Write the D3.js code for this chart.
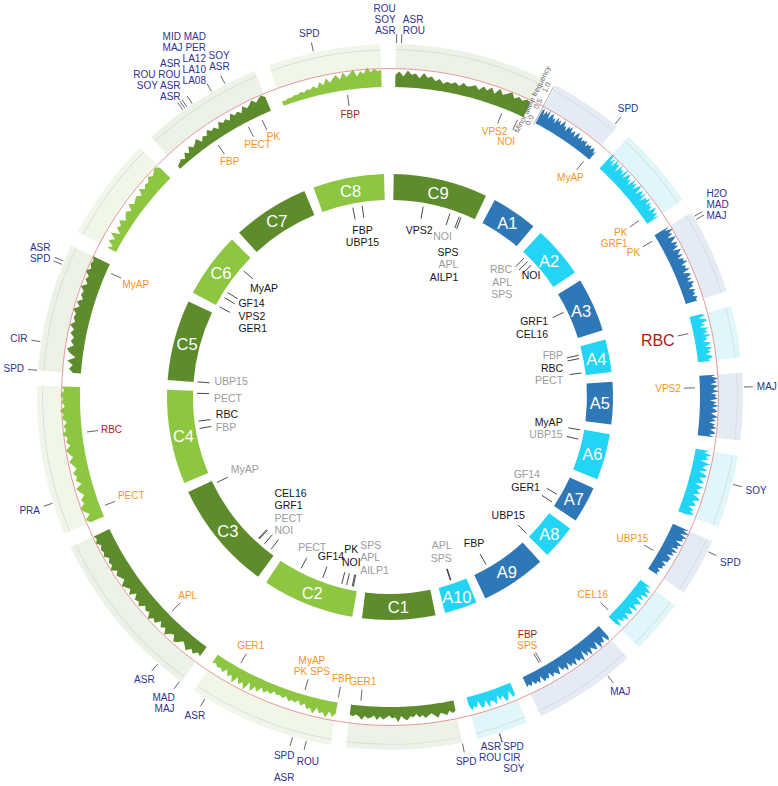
<!DOCTYPE html>
<html><head><meta charset="utf-8">
<script src="https://cdn.jsdelivr.net/npm/d3@7"></script>
<style>
html,body{margin:0;padding:0;background:#fff;}
svg{display:block;font-family:"Liberation Sans",Arial,Helvetica,sans-serif;}
</style></head><body>
<svg id="chart" width="778" height="786"></svg>
<script>
// ---------- DATA ----------
const chromosomes = ["A1","A2","A3","A4","A5","A6","A7","A8","A9","A10","C1","C2","C3","C4","C5","C6","C7","C8","C9"];
const chrLengths  = [24,27,28,17,22,24,19,18,34,17,38,48,57,49,42,34,40,37,49]; // Mb
const axisTicks = [0, 0.5, 1];
const axisTickLabels = ["0.0","0.5","1.0"];
const axisTitle = "Minor allele frequency";

// minor allele frequency profiles (clockwise order within each chromosome)
const mafA1=[0.38,0.47,0.29,0.44,0.35,0.50,0.26,0.41,0.46,0.31,0.39,0.24,0.45,0.33,0.42,0.28,0.37,0.48,0.30,0.36,0.22,0.40,0.34,0.43,0.27,0.32,0.38,0.21,0.35,0.41,0.26,0.30,0.37,0.24,0.33,0.29,0.36,0.20,0.31,0.27,0.34,0.22,0.29,0.32,0.19,0.28];
const mafA2=[0.44,0.55,0.31,0.49,0.25,0.52,0.38,0.46,0.22,0.50,0.35,0.43,0.28,0.53,0.24,0.41,0.47,0.30,0.39,0.21,0.48,0.33,0.45,0.26,0.42,0.50,0.23,0.37,0.44,0.29,0.46,0.20,0.40,0.34,0.48,0.25,0.43,0.31,0.38,0.22,0.45,0.36,0.27,0.41,0.24,0.39];
const mafA3=[0.47,0.30,0.52,0.36,0.44,0.25,0.49,0.39,0.28,0.46,0.33,0.42,0.22,0.45,0.37,0.29,0.43,0.24,0.40,0.35,0.47,0.26,0.38,0.31,0.44,0.21,0.36,0.41,0.27,0.39,0.23,0.42,0.32,0.35,0.20,0.38,0.29,0.34,0.24,0.37,0.30,0.33];
const mafA4=[0.33,0.42,0.22,0.38,0.45,0.27,0.36,0.20,0.43,0.31,0.40,0.24,0.46,0.29,0.35,0.21,0.41,0.37,0.25,0.44,0.30,0.39,0.23,0.36,0.42,0.28,0.34];
const mafA5=[0.44,0.32,0.51,0.38,0.47,0.29,0.50,0.41,0.35,0.52,0.30,0.46,0.39,0.49,0.27,0.45,0.36,0.51,0.33,0.43,0.48,0.31,0.40,0.50,0.34,0.46,0.28,0.44,0.37,0.49,0.32,0.42,0.47,0.30,0.45];
const mafA6=[0.38,0.24,0.45,0.31,0.40,0.20,0.47,0.35,0.28,0.43,0.22,0.39,0.46,0.26,0.36,0.42,0.19,0.44,0.33,0.29,0.41,0.23,0.37,0.45,0.27,0.34,0.40,0.21,0.38,0.30,0.43,0.25];
const mafA7=[0.48,0.33,0.54,0.29,0.50,0.40,0.45,0.26,0.49,0.36,0.43,0.24,0.46,0.31,0.41,0.22,0.39,0.34,0.37,0.21,0.36,0.28,0.33,0.20,0.31,0.25,0.30];
const mafA8=[0.36,0.22,0.43,0.30,0.47,0.25,0.40,0.19,0.44,0.34,0.28,0.46,0.21,0.41,0.37,0.24,0.45,0.30,0.38,0.20,0.42,0.27];
const mafA9=[0.39,0.47,0.26,0.43,0.35,0.50,0.23,0.45,0.38,0.29,0.48,0.32,0.44,0.21,0.49,0.36,0.41,0.27,0.46,0.33,0.40,0.24,0.44,0.30,0.37,0.20,0.42,0.34,0.28,0.39,0.22,0.36,0.31,0.38,0.19,0.35,0.27,0.33,0.21,0.32,0.25,0.30];
const mafA10=[0.32,0.40,0.19,0.37,0.43,0.23,0.35,0.18,0.41,0.30,0.26,0.44,0.21,0.36,0.39,0.17,0.34,0.28,0.38,0.22];
const mafC1=[0.28,0.33,0.25,0.36,0.30,0.27,0.39,0.31,0.24,0.29,0.35,0.26,0.32,0.22,0.30,0.27,0.37,0.33,0.25,0.41,0.28,0.31,0.23,0.29,0.34,0.26,0.36,0.24,0.30,0.33,0.27,0.38,0.29,0.25,0.31,0.28];
const mafC2=[0.30,0.41,0.27,0.46,0.33,0.38,0.25,0.44,0.29,0.35,0.22,0.31,0.19,0.27,0.23,0.29,0.18,0.26,0.21,0.24,0.17,0.28,0.22,0.32,0.20,0.37,0.26,0.43,0.21,0.47,0.30,0.40,0.24,0.45,0.27,0.36,0.20,0.33,0.25,0.29,0.22,0.27];
const mafC3=[0.31,0.26,0.37,0.29,0.42,0.33,0.27,0.39,0.45,0.30,0.36,0.48,0.32,0.41,0.28,0.44,0.37,0.50,0.34,0.40,0.31,0.46,0.38,0.43,0.29,0.47,0.35,0.42,0.49,0.33,0.39,0.45,0.36,0.51,0.40,0.44,0.37,0.48,0.42,0.46,0.39,0.50,0.43,0.47];
const mafC4=[0.40,0.49,0.33,0.45,0.52,0.37,0.42,0.30,0.39,0.46,0.28,0.41,0.35,0.44,0.31,0.38,0.47,0.34,0.43,0.50,0.36,0.46,0.40,0.53,0.42,0.48,0.38,0.51,0.45,0.55,0.41,0.49,0.46,0.53,0.43,0.50];
const mafC5=[0.21,0.33,0.24,0.40,0.19,0.36,0.45,0.28,0.38,0.31,0.43,0.35,0.49,0.37,0.44,0.40,0.51,0.36,0.47,0.33,0.42,0.38,0.50,0.35,0.45,0.39,0.53,0.41,0.48,0.44,0.51];
const mafC6=[0.27,0.15,0.33,0.19,0.38,0.14,0.31,0.24,0.36,0.20,0.29,0.34,0.23,0.40,0.28,0.33,0.37,0.26,0.43,0.31,0.39,0.35,0.47,0.38,0.44,0.50,0.41];
const mafC7=[0.09,0.13,0.18,0.11,0.25,0.16,0.31,0.21,0.27,0.35,0.19,0.30,0.24,0.37,0.28,0.33,0.22,0.39,0.29,0.35,0.26,0.41,0.31,0.37,0.28,0.44,0.33,0.39,0.47,0.36,0.43,0.49,0.40];
const mafC8=[0.13,0.11,0.15,0.14,0.18,0.16,0.21,0.17,0.23,0.20,0.27,0.19,0.34,0.24,0.41,0.27,0.37,0.45,0.30,0.49,0.35,0.43,0.53,0.33,0.46,0.39,0.55,0.42,0.50,0.44,0.47];
const mafC9=[0.33,0.42,0.29,0.46,0.35,0.39,0.27,0.43,0.31,0.36,0.24,0.32,0.21,0.28,0.25,0.31,0.23,0.34,0.27,0.30,0.36,0.26,0.39,0.31,0.43,0.29,0.47,0.34,0.41,0.50,0.36,0.45,0.39,0.48,0.42];

// gene annotations: chromosome, position(s) in Mb, labels
const outerGenes = [
  {chr:"C9", pos:[0.2], labels:["ASR","SOY","ROU"], anchor:"e"},
  {chr:"C9", pos:[1.8], labels:["ROU","ASR"], anchor:"s"},
  {chr:"C8", pos:[15.1], labels:["SPD"]},
  {chr:"C7", pos:[13.6,14.4,15.2,17.2], labels:["ASR","SOY ASR","ROU ROU","ASR"], anchor:"e"},
  {chr:"C7", pos:[24.6], labels:["LA08","LA10","LA12","MAJ PER","MID MAD"], anchor:"e"},
  {chr:"C7", pos:[29.6], labels:["ASR","SOY"]},
  {chr:"C5", pos:[35.3,36.5], labels:["SPD","ASR"]},
  {chr:"C5", pos:[9.3], labels:["CIR"]},
  {chr:"C5", pos:[0], labels:["SPD"]},
  {chr:"C4", pos:[10.4], labels:["PRA"]},
  {chr:"C3", pos:[9.5], labels:["ASR"]},
  {chr:"C3", pos:[0.5], labels:["MAD","MAJ"]},
  {chr:"C2", pos:[43.5], labels:["ASR"]},
  {chr:"C2", pos:[12.5], labels:["SPD","","ASR"]},
  {chr:"C2", pos:[7.9], labels:["ROU"]},
  {chr:"C1", pos:[0], labels:["SPD"]},
  {chr:"A10", pos:[9.6], labels:["ASR","ROU"], anchor:"e"},
  {chr:"A10", pos:[9.6], labels:["SPD","CIR","SOY"], anchor:"s"},
  {chr:"A9", pos:[8.7], labels:["MAJ"]},
  {chr:"A7", pos:[3.6], labels:["SPD"]},
  {chr:"A6", pos:[9.4], labels:["SOY"]},
  {chr:"A5", pos:[4.6], labels:["MAJ"]},
  {chr:"A3", pos:[1.5,2.7], labels:["MAJ","MAD","H2O"]},
  {chr:"A1", pos:[23], labels:["SPD"]}
];
const middleGenes = [
  {chr:"C8", pos:[24.1], labels:[["FBP","r"]]},
  {chr:"C9", pos:[41.0], labels:[["VPS2","o"]]},
  {chr:"C9", pos:[47.4], labels:[["NOI","o"]]},
  {chr:"C7", pos:[35.6], labels:[["PK","o"]]},
  {chr:"C7", pos:[29.8], labels:[["PECT","o"]]},
  {chr:"C7", pos:[16.6], labels:[["FBP","o"]]},
  {chr:"A1", pos:[22.8], labels:[["MyAP","o"]]},
  {chr:"A2", pos:[24.3], labels:[["PK","o"],["GRF1","o"]]},
  {chr:"A3", pos:[1.5], labels:[["PK","o"]]},
  {chr:"A4", pos:[5.9], labels:[["RBC","r"]], big:true},
  {chr:"A5", pos:[4.4], labels:[["VPS2","o"]]},
  {chr:"A7", pos:[12.2], labels:[["UBP15","o"]]},
  {chr:"A8", pos:[16.3], labels:[["CEL16","o"]]},
  {chr:"A9", pos:[25.3,26.1], labels:[["SPS","o"],["FBP","r"]]},
  {chr:"C3", pos:[18.5], labels:[["APL","o"]]},
  {chr:"C2", pos:[39.0], labels:[["GER1","o"]]},
  {chr:"C2", pos:[12.9], labels:[["PK SPS","o"],["MyAP","o"]]},
  {chr:"C2", pos:[0], labels:[["FBP","o"]]},
  {chr:"C1", pos:[34.5], labels:[["GER1","o"]]},
  {chr:"C5", pos:[39.0], labels:[["MyAP","o"]]},
  {chr:"C4", pos:[32.2], labels:[["RBC","r"]]},
  {chr:"C4", pos:[3.8], labels:[["PECT","o"]]}
];
const innerGenes = [
  {chr:"C9", pos:[17.8], labels:[["VPS2","k"]]},
  {chr:"C9", pos:[34.2], labels:[["NOI","g"]]},
  {chr:"C9", pos:[40.0,41.2], labels:[["","k"],["SPS","k"],["APL","g"],["AILP1","k"]]},
  {chr:"A2", pos:[2.9], labels:[["RBC","g"],["APL","g"],["SPS","g"]]},
  {chr:"A2", pos:[5.9,8.9], labels:[["NOI","k"]], anchor:"s"},
  {chr:"A3", pos:[10.9], labels:[["GRF1","k"],["CEL16","k"]]},
  {chr:"A4", pos:[4.9,6.9,15.6], labels:[["FBP","g"],["RBC","k"],["PECT","g"]]},
  {chr:"A6", pos:[0.4,6.0], labels:[["UBP15","g"],["MyAP","k"]]},
  {chr:"A7", pos:[12.2,17.6], labels:[["GER1","k"],["GF14","g"]]},
  {chr:"A8", pos:[17.7], labels:[["UBP15","k"]]},
  {chr:"A9", pos:[25.0], labels:[["FBP","k"]]},
  {chr:"A10", pos:[8.8,9.2], labels:[["SPS","g"],["APL","g"]]},
  {chr:"C2", pos:[2.4,3.1], labels:[["AILP1","g"],["APL","g"],["SPS","g"]], anchor:"s"},
  {chr:"C2", pos:[6.5,9.5], labels:[["NOI","k"],["PK","k"]]},
  {chr:"C2", pos:[21.3], labels:[["GF14","k"]]},
  {chr:"C2", pos:[35.3], labels:[["PECT","g"]]},
  {chr:"C3", pos:[3.5,8.5,12.7,13.3], labels:[["NOI","g"],["PECT","g"],["GRF1","k"],["CEL16","k"]]},
  {chr:"C3", pos:[54.8], labels:[["MyAP","g"]]},
  {chr:"C4", pos:[47.5], labels:[["PECT","g"]]},
  {chr:"C4", pos:[26.6,31.0], labels:[["FBP","g"],["RBC","k"]]},
  {chr:"C5", pos:[0.3], labels:[["UBP15","g"]]},
  {chr:"C6", pos:[0,6.2,9.8], labels:[["GF14","k"],["VPS2","k"],["GER1","k"]]},
  {chr:"C6", pos:[25.7], labels:[["MyAP","k"]]},
  {chr:"C8", pos:[17.9,23.5], labels:[["FBP","k"],["UBP15","k"]]}
];

// ---------- LAYOUT ----------
// small label-block nudges (px), keyed by group index
const outerNudge = {5:[6,0], 14:[6,2]};
const middleNudge = {2:[-3,4], 3:[3,-2]};
const innerNudge = {12:[4,0], 18:[0,4], 20:[0,-4]};

const mafByChr = [mafA1,mafA2,mafA3,mafA4,mafA5,mafA6,mafA7,mafA8,mafA9,mafA10,
                  mafC1,mafC2,mafC3,mafC4,mafC5,mafC6,mafC7,mafC8,mafC9];
const W=778, H=786, cx=390, cy=397;
const gapMb = 5, startDeg = 28;
const totalMb = d3.sum(chrLengths) + gapMb*chromosomes.length;
const angle = d3.scaleLinear().domain([0,totalMb])
  .range([startDeg*Math.PI/180, (startDeg+360)*Math.PI/180]);
const chrStart = {};
{ let acc=0; chromosomes.forEach((c,i)=>{ chrStart[c]=acc; acc+=chrLengths[i]+gapMb; }); }
const ang = (chr,pos)=>angle(chrStart[chr]+pos);
const rMaf = d3.scaleLinear().domain([0,1]).range([310,347]);
const R_IN0=197, R_IN1=223, BG_OUT=353;

const isA = c=>c[0]==="A";
const num = c=>+c.slice(1);
const chrColor = c => isA(c) ? (num(c)%2 ? "#2f78b7" : "#22d5f4") : (num(c)%2 ? "#5e8c2c" : "#8dc641");
const bgColor  = c => isA(c) ? (num(c)%2 ? "#e5ebf4" : "#e1f6fa") : (num(c)%2 ? "#edf2e6" : "#f0f6e8");
const pt = (r,a)=>[cx + r*Math.sin(a), cy - r*Math.cos(a)];

const svg = d3.select("#chart");
const g = svg.append("g");

// background bands of outer track (above 0.5)
chromosomes.forEach((c,i)=>{
  const a0=ang(c,0), a1=ang(c,chrLengths[i]);
  g.append("path").attr("transform",`translate(${cx},${cy})`)
    .attr("d", d3.arc()({innerRadius:rMaf(0.5), outerRadius:BG_OUT, startAngle:a0, endAngle:a1}))
    .attr("fill", bgColor(c));
  g.append("path").attr("transform",`translate(${cx},${cy})`)
    .attr("d", d3.arc()({innerRadius:rMaf(1), outerRadius:rMaf(1)+0.7, startAngle:a0, endAngle:a1}))
    .attr("fill", "#d3d7dc");
});

// histograms
const area = d3.areaRadial()
  .angle(d=>d.a).innerRadius(rMaf(0)).outerRadius(d=>rMaf(d.v)).curve(d3.curveLinear);
chromosomes.forEach((c,i)=>{
  const vals = mafByChr[i];
  const a0=ang(c,0), a1=ang(c,chrLengths[i]);
  const pts = vals.map((v,k)=>({a: a0 + (a1-a0)*k/(vals.length-1), v}));
  g.append("path").attr("transform",`translate(${cx},${cy})`)
    .attr("d", area(pts)).attr("fill", chrColor(c));
});

// 0.5 reference circle
g.append("circle").attr("cx",cx).attr("cy",cy).attr("r",rMaf(0.5))
  .attr("fill","none").attr("stroke","#de8080").attr("stroke-width",0.8);

// inner ideogram
chromosomes.forEach((c,i)=>{
  const a0=ang(c,0), a1=ang(c,chrLengths[i]);
  g.append("path").attr("transform",`translate(${cx},${cy})`)
    .attr("d", d3.arc()({innerRadius:R_IN0, outerRadius:R_IN1, startAngle:a0, endAngle:a1}))
    .attr("fill", chrColor(c));
  const am=(a0+a1)/2, p=pt((R_IN0+R_IN1)/2, am);
  g.append("text").attr("x",p[0]).attr("y",p[1]+0.5).text(c)
    .attr("text-anchor","middle").attr("dominant-baseline","central")
    .attr("fill","#fff").attr("font-size",16.5);
});

// axis
{
  const aLine = (startDeg-0.2)*Math.PI/180;
  const p0=pt(rMaf(0)-2,aLine), p1=pt(rMaf(1)+4,aLine);
  g.append("line").attr("x1",p0[0]).attr("y1",p0[1]).attr("x2",p1[0]).attr("y2",p1[1])
    .attr("stroke","#999").attr("stroke-width",0.8);
  const aTickDeg=startDeg-0.8, aTick=aTickDeg*Math.PI/180;
  axisTicks.forEach((v,k)=>{
    const p=pt(rMaf(v),aTick);
    g.append("text").attr("transform",`translate(${p[0]},${p[1]}) rotate(${-(90-aTickDeg)})`)
      .attr("text-anchor","middle").attr("font-size",7.5).attr("fill","#666").text(axisTickLabels[k]);
  });
  const aTDeg=startDeg-2.0, pT=pt(330,aTDeg*Math.PI/180);
  g.append("text").attr("transform",`translate(${pT[0]},${pT[1]}) rotate(${-(90-aTDeg)})`)
    .attr("text-anchor","middle").attr("font-size",7.5).attr("fill","#666").text(axisTitle);
}

// label drawing
const palette = {k:"#151515", g:"#9b9b9b", o:"#f7941d", r:"#a8201a", n:"#2e3192"};
function drawGroups(groups, o, nudge){
  const lg = g.append("g");
  groups.forEach((gr,gi)=>{
    gr.pos.forEach(p=>{
      const a=ang(gr.chr,p), q0=pt(o.r0,a), q1=pt(o.r1,a);
      lg.append("line").attr("x1",q0[0]).attr("y1",q0[1]).attr("x2",q1[0]).attr("y2",q1[1])
        .attr("stroke",o.tick).attr("stroke-width",0.9);
    });
    const am = ang(gr.chr, d3.mean(gr.pos));
    const P = pt(o.r1, am);
    const s=Math.sin(am), c=-Math.cos(am);
    const u = o.dir>0 ? [s,c] : [-s,-c];
    const size = gr.big ? 16 : o.size;
    const lh = gr.big ? 17.6 : o.lh;
    const items = gr.labels.map(l => Array.isArray(l) ? l : [l, o.defColor]);
    const nodes = items.map(([t,ck]) => lg.append("text").text(t)
      .attr("font-size",size).attr("fill",palette[ck]).attr("dominant-baseline","central"));
    const widths = nodes.map(n=> n.text() ? n.node().getComputedTextLength() : 0);
    const w = d3.max(widths)/2, h = items.length*lh/2;
    let ctr, align;
    if (gr.anchor){
      align = gr.anchor;
      const x = align==="e" ? P[0]-1-w : align==="s" ? P[0]+1+w : P[0];
      const y = P[1] + u[1]*o.gap + (u[1]>=0?1:-1)*(h - lh/2);
      ctr=[x,y];
    } else {
      const ax=Math.max(Math.abs(u[0]),1e-6), ay=Math.max(Math.abs(u[1]),1e-6);
      const t = o.gap + Math.min(w/ax, h/ay);
      ctr=[P[0]+u[0]*t, P[1]+u[1]*t];
      align = u[0]>0.3 ? "s" : u[0]<-0.3 ? "e" : "m";
    }
    const nd = nudge[gi] || [0,0];
    ctr = [ctr[0]+nd[0], ctr[1]+nd[1]];
    nodes.forEach((n,i)=>{
      const y = u[1]>=0 ? ctr[1]-h+lh*(i+0.5) : ctr[1]+h-lh*(i+0.5);
      const x = align==="s" ? ctr[0]-w : align==="e" ? ctr[0]+w : ctr[0];
      n.attr("x",x).attr("y",y)
       .attr("text-anchor", align==="s"?"start":align==="e"?"end":"middle");
    });
  });
}
drawGroups(outerGenes, {r0:354, r1:363, dir:1, gap:4, lh:11, size:10, tick:"#555", defColor:"n"}, outerNudge);
drawGroups(middleGenes,{r0:305, r1:294, dir:-1, gap:3, lh:10.5, size:10, tick:"#555", defColor:"o"}, middleNudge);
drawGroups(innerGenes, {r0:193, r1:181, dir:-1, gap:5, lh:12.5, size:10.5, tick:"#333", defColor:"k"}, innerNudge);
</script>
</body></html>
